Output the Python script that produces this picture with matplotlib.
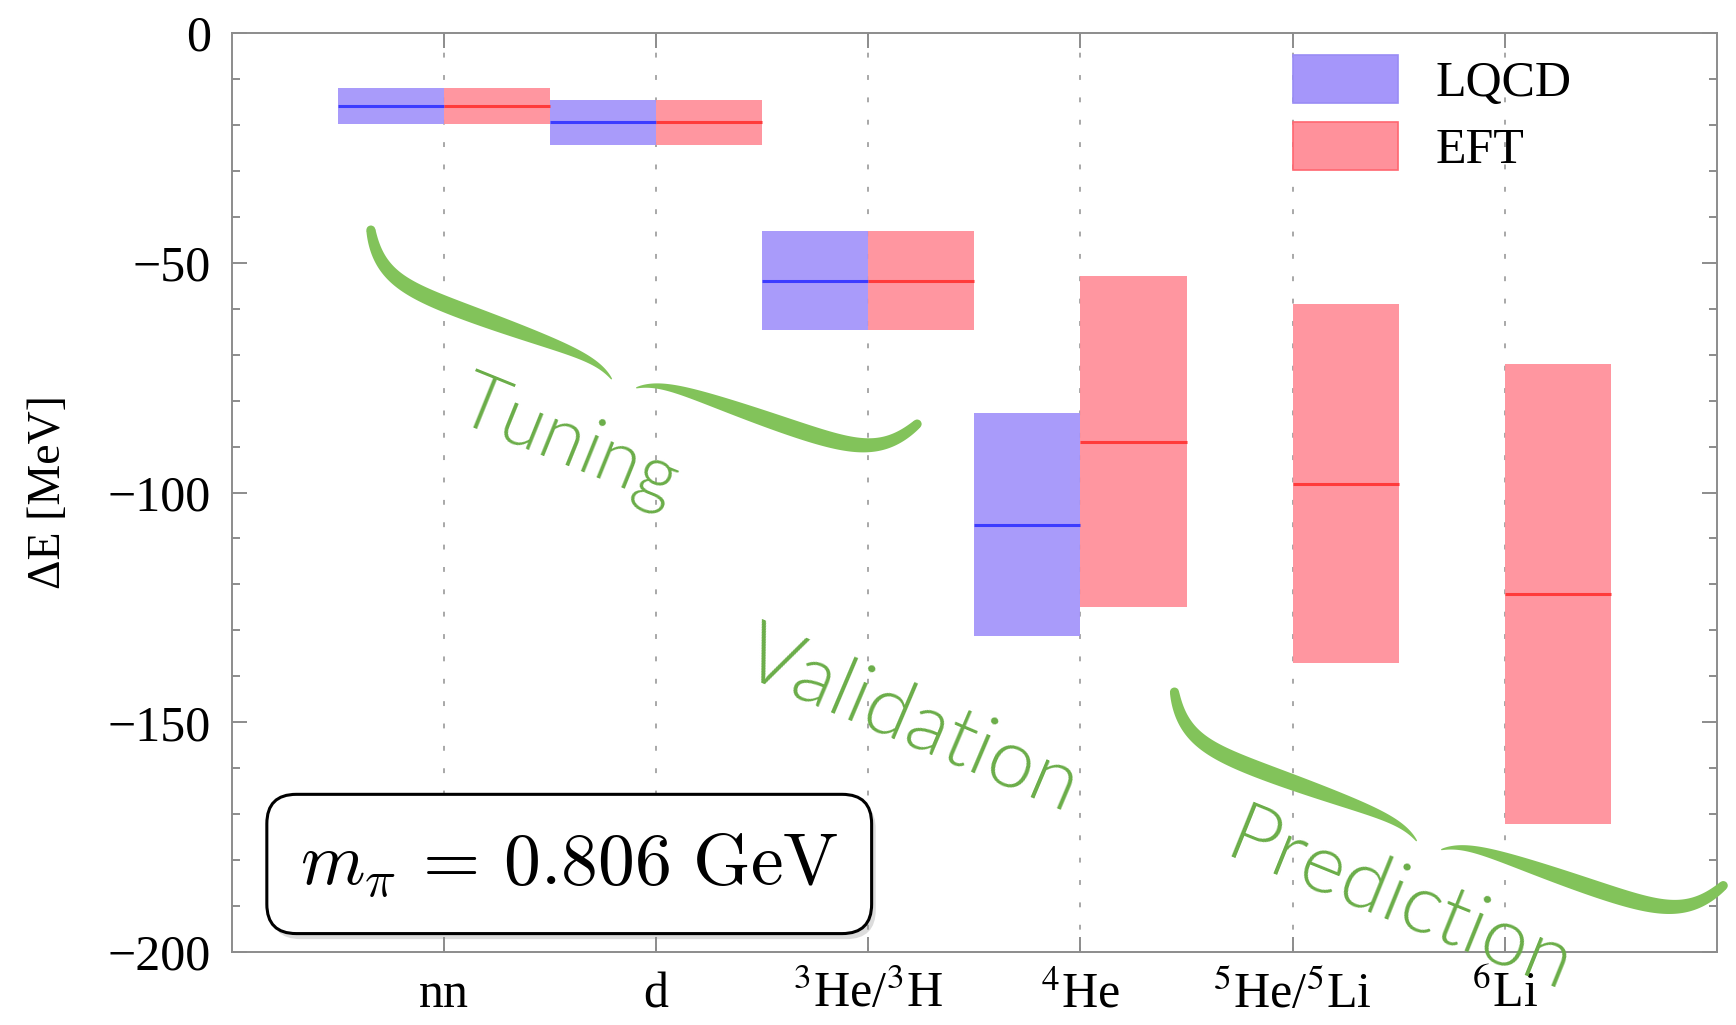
import numpy as np
import matplotlib
matplotlib.use("Agg")
import matplotlib.pyplot as plt
import matplotlib.patches as mpatches
import matplotlib.patheffects as pe
from matplotlib.transforms import IdentityTransform
from matplotlib.ticker import MultipleLocator, FixedLocator

# ---- data -------------------------------------------------------------
nuclei = ["nn", "d", r"$^{3}$He/$^{3}$H", r"$^{4}$He", r"$^{5}$He/$^{5}$Li", r"$^{6}$Li"]
lqcd_center = [-15.9, -19.5, -53.9, -107.0]
lqcd_err = [3.9, 4.8, 10.7, 24.3]
eft_center = [-15.9, -19.5, -53.9, -89.0, -98.1, -122.0]
eft_err = [3.9, 4.8, 10.7, 36.0, 39.0, 50.0]
y_ticks = [0, -50, -100, -150, -200]

# ---- style ------------------------------------------------------------
SERIF = "Liberation Serif"
LQCD_FILL, LQCD_LINE = "#A596FA", "#3C3CFF"
EFT_FILL, EFT_LINE = "#FF919B", "#FF3B3B"
BRACE_GREEN = "#82C35A"
TEXT_GREEN = "#6AAD48"
AXIS_GRAY = "#8C8C8C"

fig = plt.figure(figsize=(17.36, 10.25), dpi=100)
ax = fig.add_axes([0.1336, 0.071, 0.989 - 0.1336, 0.968 - 0.071])
ax.set_xlim(0, 7)
ax.set_ylim(-200, 0)

pos = np.arange(1, len(nuclei) + 1)

# dotted guide lines at each nucleus
for p in pos:
    ax.axvline(p, color="#A8A8A8", lw=1.4, ls=(0, (2.5, 9)), zorder=0)

# LQCD bands (left half of each slot)
lq_pos = pos[:len(lqcd_center)]
lq_c = np.array(lqcd_center)
lq_e = np.array(lqcd_err)
ax.bar(lq_pos - 0.5, 2 * lq_e, bottom=lq_c - lq_e, width=0.5, align="edge",
       color=LQCD_FILL, alpha=0.95, lw=0, zorder=2)
ax.hlines(lq_c, lq_pos - 0.5, lq_pos, color=LQCD_LINE, lw=2.2, zorder=3)

# EFT bands (right half of each slot)
ef_c = np.array(eft_center)
ef_e = np.array(eft_err)
ax.bar(pos, 2 * ef_e, bottom=ef_c - ef_e, width=0.5, align="edge",
       color=EFT_FILL, alpha=0.95, lw=0, zorder=2)
ax.hlines(ef_c, pos, pos + 0.5, color=EFT_LINE, lw=2.2, zorder=3)

# ---- axes decoration --------------------------------------------------
for s in ax.spines.values():
    s.set_color(AXIS_GRAY)
    s.set_linewidth(1.4)

ax.yaxis.set_major_locator(FixedLocator(y_ticks))
ax.yaxis.set_minor_locator(MultipleLocator(10))
ax.set_yticklabels(["0" if v == 0 else "\u2212%d" % abs(v) for v in y_ticks])
ax.xaxis.set_major_locator(FixedLocator(pos))
ax.set_xticklabels(nuclei)

ax.tick_params(axis="both", which="both", direction="in", color=AXIS_GRAY,
               top=True, right=True, width=1.4)
ax.tick_params(axis="y", which="major", length=11, pad=15, labelsize=36)
ax.tick_params(axis="y", which="minor", length=6)
ax.tick_params(axis="x", which="major", length=11, pad=14, labelsize=36)

for lab in ax.get_yticklabels() + ax.get_xticklabels():
    lab.set_fontfamily(SERIF)
    lab.set_math_fontfamily("stix")

ax.set_ylabel("\u0394E [MeV]", fontfamily=SERIF, fontsize=33, labelpad=27)

# ---- legend -----------------------------------------------------------
handles = [
    mpatches.Patch(facecolor=LQCD_FILL, edgecolor="#9A8CF5", lw=1.2, label="LQCD"),
    mpatches.Patch(facecolor=EFT_FILL, edgecolor="#FF6670", lw=1.2, label="EFT"),
]
ax.legend(handles=handles, loc="upper left", bbox_to_anchor=(0.7145, 0.976),
          frameon=False, prop={"family": SERIF, "size": 36},
          handlelength=2.1, handleheight=1.1, handletextpad=0.75,
          labelspacing=0.3, borderpad=0, borderaxespad=0)

# ---- pion mass box ------------------------------------------------------
t = ax.text(1.59, -180.8, r"$m_\pi\,=\,0.806\ \mathrm{GeV}$", fontsize=53,
            math_fontfamily="cm", ha="center", va="center", zorder=8,
            bbox=dict(boxstyle="round,pad=0.45,rounding_size=0.4",
                      fc="white", ec="black", lw=2.2))
t.get_bbox_patch().set_path_effects(
    [pe.SimplePatchShadow(offset=(3, -4), shadow_rgbFace="0.55", alpha=0.3), pe.Normal()])


# ---- hand-drawn style braces -------------------------------------------
def draw_brace(ax, start, end, h_end, h_tip, gap, color):
    p0 = ax.transData.transform(start)
    p1 = ax.transData.transform(end)
    vec = p1 - p0
    L = np.hypot(*vec)
    d = vec / L
    n = np.array([d[1], -d[0]])
    s = np.linspace(0, 1, 300)
    half = (L - gap) / 2
    v = h_end * (1 - np.exp(-s / 0.09)) + h_tip * np.exp(-(1 - s) / 0.07)
    w = 9.0 * (1 - s) + 1.0 * s + 11.0 * np.sin(np.pi * s) ** 0.7
    for side in (0, 1):
        u = s * half if side == 0 else L - s * half
        pts = p0 + np.outer(u, d) + np.outer(v, n)
        tg = np.gradient(pts, axis=0)
        tg /= np.linalg.norm(tg, axis=1)[:, None]
        nrm = np.column_stack([-tg[:, 1], tg[:, 0]])
        upper = pts + nrm * (w / 2)[:, None]
        lower = pts - nrm * (w / 2)[:, None]
        poly = np.vstack([upper, lower[::-1]])
        ax.add_patch(mpatches.Polygon(poly, closed=True, fc=color, ec="none",
                                      transform=IdentityTransform(),
                                      clip_on=False, zorder=6))
        ax.add_patch(mpatches.Circle(pts[0], w[0] / 2, fc=color, ec="none",
                                     transform=IdentityTransform(),
                                     clip_on=False, zorder=6))


draw_brace(ax, (0.655, -42.9), (3.23, -85.1), 46, 14, 26, BRACE_GREEN)
draw_brace(ax, (4.443, -143.4), (7.03, -185.5), 46, 14, 26, BRACE_GREEN)

stage_kw = dict(color=TEXT_GREEN, fontfamily="Lato", fontweight=300,
                ha="center", va="center", zorder=7, rotation_mode="anchor")
ax.text(1.585, -89.5, "Tuning", rotation=-22, fontsize=56, **stage_kw)
ax.text(3.2, -150.0, "Validation", rotation=-23, fontsize=60, **stage_kw)
ax.text(5.5, -189.5, "Prediction", rotation=-22, fontsize=60, clip_on=False, **stage_kw)

fig.savefig("out.png", dpi=100)
